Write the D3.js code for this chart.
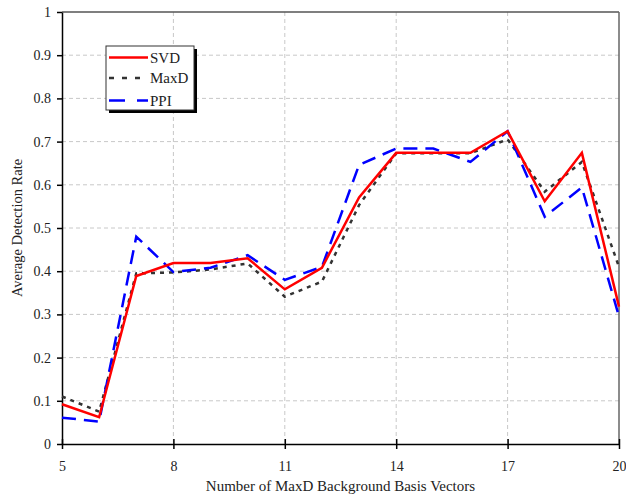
<!DOCTYPE html>
<html><head><meta charset="utf-8">
<script src="https://cdn.jsdelivr.net/npm/d3@7"></script>
<style>body{margin:0;background:#fff}svg{display:block}</style>
</head><body><div id="chart"></div>
<script>
const xValues = [5,6,7,8,9,10,11,12,13,14,15,16,17,18,19,20];
const svd  = [0.092,0.062,0.389,0.419,0.419,0.430,0.358,0.408,0.571,0.674,0.674,0.674,0.724,0.562,0.674,0.318];
const maxd = [0.110,0.075,0.395,0.397,0.404,0.418,0.341,0.376,0.553,0.673,0.673,0.673,0.705,0.584,0.653,0.410];
const ppi  = [0.061,0.052,0.480,0.398,0.408,0.437,0.380,0.410,0.646,0.684,0.684,0.653,0.724,0.526,0.594,0.295];
const xTicks = [5,8,11,14,17,20];
const yTicks = [0,0.1,0.2,0.3,0.4,0.5,0.6,0.7,0.8,0.9,1];
const seriesNames = ["SVD","MaxD","PPI"];

const W=626,H=501;
const svg=d3.select("#chart").append("svg").attr("width",W).attr("height",H);
const L=62,R=619,T=12,B=444;
const x=d3.scaleLinear().domain([5,20]).range([L,R]);
const y=d3.scaleLinear().domain([0,1]).range([B,T]);
const font="'Liberation Serif','Times New Roman',serif";

// grid
const g=svg.append("g");
g.selectAll(".hg").data(yTicks.filter(v=>v>0&&v<1)).enter().append("line")
 .attr("x1",L).attr("x2",R).attr("y1",d=>y(d)).attr("y2",d=>y(d))
 .attr("stroke","#c8c8c8").attr("stroke-width",1).attr("stroke-dasharray","4,3");
g.selectAll(".vg").data(xTicks.filter(v=>v>5&&v<20)).enter().append("line")
 .attr("y1",T).attr("y2",B).attr("x1",d=>x(d)).attr("x2",d=>x(d))
 .attr("stroke","#c8c8c8").attr("stroke-width",1).attr("stroke-dasharray","4,3");

// frame top/right
svg.append("line").attr("x1",L).attr("x2",R).attr("y1",T).attr("y2",T).attr("stroke","#555").attr("stroke-width",1.5);
svg.append("line").attr("x1",R).attr("x2",R).attr("y1",T).attr("y2",B).attr("stroke","#666").attr("stroke-width",1.5);

// axes
const xAxis=svg.append("g").attr("transform",`translate(0,${B})`)
 .call(d3.axisBottom(x).tickValues(xTicks).tickFormat(d3.format("d")).tickSizeInner(5).tickSizeOuter(0).tickPadding(12));
xAxis.select(".domain").attr("stroke","#000").attr("stroke-width",1.5);
xAxis.selectAll(".tick line").attr("stroke","#000").attr("stroke-width",1.5).attr("y1",-5);
xAxis.selectAll("text").attr("font-family",font).attr("font-size",14).attr("fill","#222");

const yAxis=svg.append("g").attr("transform",`translate(${L},0)`)
 .call(d3.axisLeft(y).tickValues(yTicks).tickFormat(d=>d===0?"0":d===1?"1":d3.format(".1f")(d)).tickSizeInner(5).tickSizeOuter(0).tickPadding(6));
yAxis.select(".domain").attr("stroke","#000").attr("stroke-width",1.5);
yAxis.selectAll(".tick line").attr("stroke","#000").attr("stroke-width",1.5);
yAxis.selectAll("text").attr("font-family",font).attr("font-size",14).attr("fill","#222");

// titles
svg.append("text").attr("x",(L+R)/2).attr("y",491).attr("text-anchor","middle")
 .attr("font-family",font).attr("font-size",15).attr("fill","#222").text("Number of MaxD Background Basis Vectors");
svg.append("text").attr("transform",`translate(22,${(T+B)/2}) rotate(-90)`).attr("text-anchor","middle")
 .attr("font-family",font).attr("font-size",14.5).attr("fill","#222").text("Average Detection Rate");

// lines
const line=d3.line().x((d,i)=>x(xValues[i])).y(d=>y(d));
const styles={
 SVD:{data:svd,color:"#ff0000",dash:null,w:2.5},
 MaxD:{data:maxd,color:"#333333",dash:"4,5",w:2.5},
 PPI:{data:ppi,color:"#0000ff",dash:"14,8",w:2.5}
};
["MaxD","PPI","SVD"].forEach(k=>{
 const s=styles[k];
 svg.append("path").datum(s.data).attr("d",line).attr("fill","none")
  .attr("stroke",s.color).attr("stroke-width",s.w).attr("stroke-dasharray",s.dash)
  .attr("stroke-linejoin","miter");
});

// legend
const lg=svg.append("g");
lg.append("rect").attr("x",109).attr("y",49).attr("width",88).attr("height",64).attr("fill","#000");
lg.append("rect").attr("x",106).attr("y",46).attr("width",88).attr("height",64).attr("fill","#fff").attr("stroke","#333").attr("stroke-width",1);
seriesNames.forEach((n,i)=>{
 const s=styles[n];
 const yy=[57.5,78,100.5][i];
 lg.append("line").attr("x1",109).attr("x2",148).attr("y1",yy).attr("y2",yy)
  .attr("stroke",s.color).attr("stroke-width",2.5).attr("stroke-dasharray",n==="MaxD"?"5,8":n==="PPI"?"16,12":null);
 lg.append("text").attr("x",150).attr("y",yy+5).attr("font-family",font).attr("font-size",15).attr("fill","#222").text(n);
});
</script></body></html>
